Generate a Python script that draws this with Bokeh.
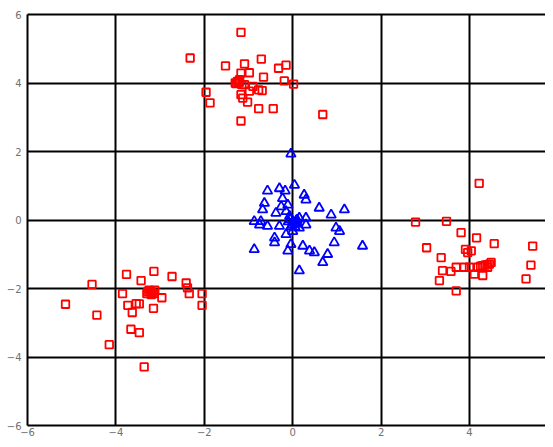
from bokeh.plotting import figure
from bokeh.models import FixedTicker, Range1d, LinearAxis
from bokeh.embed import file_html
from bokeh.resources import INLINE

# Red cluster 1 (upper)
red_top_x = [-1.17, -2.32, -1.52, -0.71, -1.09, -1.17, -0.98, -0.32, -0.15, -0.66,
             -1.21, -1.30, -0.19, 0.02, -1.96, -1.87, -1.17, -0.98, -0.77, -0.69,
             -1.02, -0.77, -0.44, -1.17, 0.68, -0.90, -1.09, -1.13, -1.25, -1.15, -1.20,
             -1.28, -1.22]
red_top_y = [5.48, 4.73, 4.50, 4.70, 4.56, 4.29, 4.30, 4.43, 4.52, 4.17,
             4.01, 4.00, 4.06, 3.97, 3.73, 3.42, 3.66, 3.76, 3.80, 3.78,
             3.44, 3.25, 3.25, 2.89, 3.08, 3.90, 3.95, 3.56, 4.05, 3.95, 4.10,
             3.98, 4.03]

# Red cluster 2 (lower left)
red_left_x = [-5.14, -4.54, -4.43, -3.76, -3.14, -2.73, -3.43, -3.85, -3.20, -2.96,
              -2.41, -2.34, -2.05, -2.05, -3.73, -3.54, -3.63, -3.15, -3.66, -3.47,
              -4.15, -3.36, -3.47, -2.38, -3.25, -3.15, -3.30, -3.22, -3.18, -3.12,
              -3.28, -3.20]
red_left_y = [-2.46, -1.88, -2.78, -1.59, -1.50, -1.65, -1.77, -2.15, -2.10, -2.27,
              -1.84, -2.15, -2.15, -2.49, -2.49, -2.44, -2.70, -2.58, -3.19, -3.29,
              -3.64, -4.29, -2.45, -1.98, -2.05, -2.15, -2.15, -2.08, -2.12, -2.05,
              -2.10, -2.18]

# Red cluster 3 (right)
red_right_x = [4.22, 2.78, 3.48, 3.81, 4.16, 3.03, 4.56, 5.43, 4.04, 3.96,
               3.36, 4.45, 4.30, 3.88, 3.70, 3.39, 3.58, 4.11, 4.30, 3.32,
               5.39, 5.28, 3.70, 4.41, 4.00, 4.19, 4.49, 3.91, 4.35, 4.25, 4.40]
red_right_y = [1.07, -0.06, -0.04, -0.37, -0.52, -0.81, -0.69, -0.76, -0.90, -0.95,
               -1.10, -1.29, -1.33, -1.38, -1.38, -1.48, -1.50, -1.58, -1.62, -1.77,
               -1.32, -1.72, -2.07, -1.38, -1.38, -1.38, -1.24, -0.86, -1.32, -1.35, -1.30]

# Blue cluster (center)
blue_x = [-0.04, 0.04, -0.57, -0.30, -0.17, 0.26, 0.30, -0.64, -0.68, -0.26,
          -0.11, 0.60, 0.87, 1.17, -0.87, -0.75, -0.57, -0.30, 0.04, -0.07,
          0.15, 0.30, 0.30, 0.98, 1.06, -0.41, -0.41, -0.87, -0.11, 0.23,
          0.38, 0.49, 0.79, 0.68, 0.94, 1.58, 0.15, -0.04, 0.00, -0.15,
          0.15, -0.15, -0.23, 0.00, 0.07, -0.04, 0.10, -0.38, -0.72,
          0.02, -0.02, 0.08, -0.06, 0.05, 0.10, -0.10]
blue_y = [1.93, 1.02, 0.85, 0.92, 0.85, 0.73, 0.59, 0.49, 0.30, 0.39,
          0.44, 0.35, 0.15, 0.30, -0.04, -0.14, -0.18, -0.18, -0.09, 0.11,
          0.06, 0.06, -0.14, -0.23, -0.33, -0.52, -0.66, -0.86, -0.90, -0.76,
          -0.90, -0.95, -1.00, -1.24, -0.66, -0.76, -1.48, -0.71, -0.33, -0.42,
          -0.23, 0.25, 0.63, -0.05, -0.12, -0.20, 0.00, 0.20, -0.04,
          -0.08, -0.15, -0.02, 0.02, -0.20, -0.10, -0.05]

ticks = [-6, -4, -2, 0, 2, 4, 6]

p = figure(width=545, height=439, output_backend="svg", toolbar_location=None,
           x_range=Range1d(-6, 5.72), y_range=Range1d(-6, 6),
           min_border_left=27, min_border_right=0, min_border_top=14, min_border_bottom=14)

p.outline_line_color = None
p.background_fill_color = "white"
p.border_fill_color = "white"

for g in (p.xgrid, p.ygrid):
    g.grid_line_color = "black"
    g.grid_line_width = 2
    g.grid_line_alpha = 1.0

p.xaxis.ticker = FixedTicker(ticks=ticks)
p.yaxis.ticker = FixedTicker(ticks=ticks)
for ax in (p.xaxis, p.yaxis):
    ax.axis_line_color = "black"
    ax.axis_line_width = 2
    ax.major_tick_line_color = None
    ax.minor_tick_line_color = None
    ax.major_tick_out = 0
    ax.major_tick_in = 0
    ax.major_label_text_font = "DejaVu Sans"
    ax.major_label_text_font_size = "10px"
    ax.major_label_text_color = "#707070"
p.yaxis.major_label_standoff = 6
p.xaxis.major_label_standoff = 2

# top frame line
top_axis = LinearAxis(ticker=FixedTicker(ticks=[]), axis_line_color="black",
                      axis_line_width=2, major_tick_line_color=None,
                      minor_tick_line_color=None, major_label_text_font_size="0px",
                      major_tick_out=0, major_tick_in=0)
p.add_layout(top_axis, "above")

for xs, ys in ((red_top_x, red_top_y), (red_left_x, red_left_y), (red_right_x, red_right_y)):
    p.scatter(xs, ys, marker="square", size=7.5, fill_color=None,
              line_color="red", line_width=1.8)

p.scatter(blue_x, blue_y, marker="triangle", size=9.5, fill_color=None,
          line_color="blue", line_width=1.8)

open("out.html", "w").write(file_html(p, INLINE))
